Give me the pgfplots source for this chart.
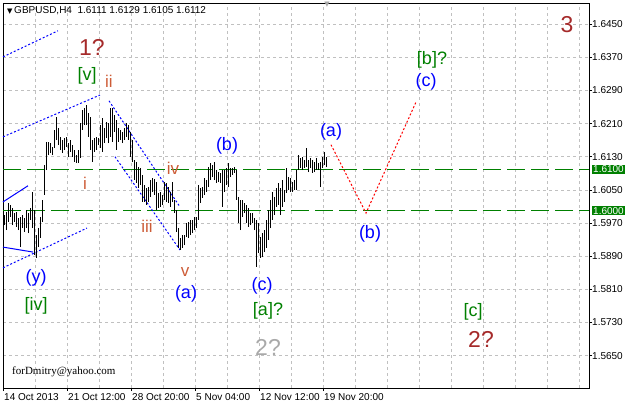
\documentclass[border=0pt]{standalone}
\usepackage{fontspec}
\setmainfont{Liberation Sans}
\newfontfamily\serifface{Liberation Serif}
\newfontfamily\symbface{DejaVu Sans}
\usepackage{pgfplots}
\usepackage{pgfplotstable}
\pgfplotsset{compat=1.18}

\definecolor{mtgreen}{RGB}{0,128,0}
\definecolor{mtblue}{RGB}{0,0,255}
\definecolor{mtbrown}{RGB}{165,42,42}
\definecolor{mtorange}{RGB}{205,92,55}
\definecolor{mtgrid}{RGB}{192,192,192}
\definecolor{mtgray}{RGB}{169,169,169}

\newcommand\fTick{\fontsize{10bp}{12bp}\selectfont}
\newcommand\fWl{\fontsize{18bp}{20bp}\selectfont}
\newcommand\fWr{\fontsize{17bp}{19bp}\selectfont}
\newcommand\fWb{\fontsize{23bp}{26bp}\selectfont}

% GBPUSD H4 bars: x position, high, low
\pgfplotstableread{
x hi lo
4 1.5990 1.5965
6 1.5997 1.5953
8 1.6019 1.5973
10 1.6014 1.5985
12 1.6007 1.5965
14 1.5994 1.5973
16 1.5997 1.5961
18 1.5982 1.5953
20 1.5985 1.5912
22 1.5990 1.5958
24 1.5982 1.5949
26 1.6002 1.5958
28 1.5994 1.5946
30 1.6007 1.5978
32 1.6045 1.5958
34 1.6002 1.5893
36 1.5941 1.5886
38 1.5958 1.5912
40 1.5985 1.5934
42 1.6026 1.5973
44 1.6110 1.6038
46 1.6166 1.6098
48 1.6166 1.6134
50 1.6163 1.6139
52 1.6154 1.6134
54 1.6195 1.6151
56 1.6226 1.6171
58 1.6200 1.6159
60 1.6178 1.6147
62 1.6171 1.6139
64 1.6175 1.6147
66 1.6178 1.6154
68 1.6163 1.6130
70 1.6171 1.6142
72 1.6159 1.6130
74 1.6147 1.6118
76 1.6134 1.6115
78 1.6147 1.6115
80 1.6212 1.6127
82 1.6243 1.6195
84 1.6248 1.6207
86 1.6255 1.6207
88 1.6236 1.6178
90 1.6226 1.6147
92 1.6171 1.6118
94 1.6175 1.6142
96 1.6178 1.6147
98 1.6175 1.6159
100 1.6207 1.6151
102 1.6224 1.6142
104 1.6200 1.6163
106 1.6214 1.6175
108 1.6212 1.6163
110 1.6248 1.6178
112 1.6248 1.6166
114 1.6231 1.6190
116 1.6219 1.6147
118 1.6200 1.6166
120 1.6195 1.6171
122 1.6190 1.6163
124 1.6200 1.6171
126 1.6212 1.6178
128 1.6207 1.6171
130 1.6190 1.6130
132 1.6171 1.6118
134 1.6122 1.6074
136 1.6118 1.6067
138 1.6105 1.6055
140 1.6103 1.6062
142 1.6086 1.6021
144 1.6062 1.6021
146 1.6055 1.6014
148 1.6057 1.6021
150 1.6074 1.6033
152 1.6079 1.6045
154 1.6076 1.6038
156 1.6069 1.6002
158 1.6043 1.6007
160 1.6045 1.6009
162 1.6038 1.6014
164 1.6069 1.6026
166 1.6067 1.6021
168 1.6057 1.6019
170 1.6045 1.6009
172 1.6069 1.6021
174 1.6026 1.5994
176 1.6002 1.5949
178 1.5958 1.5910
180 1.5934 1.5905
182 1.5941 1.5910
184 1.5941 1.5917
186 1.5970 1.5937
188 1.5973 1.5934
190 1.5978 1.5941
192 1.5978 1.5946
194 1.5985 1.5953
196 1.5985 1.5958
198 1.6062 1.5978
200 1.6055 1.6019
202 1.6057 1.6031
204 1.6079 1.6038
206 1.6074 1.6045
208 1.6105 1.6057
210 1.6115 1.6074
212 1.6110 1.6081
214 1.6118 1.6074
216 1.6098 1.6067
218 1.6093 1.6069
220 1.6091 1.6067
222 1.6098 1.6009
224 1.6098 1.6045
226 1.6103 1.6062
228 1.6115 1.6057
230 1.6103 1.6081
232 1.6103 1.6086
234 1.6105 1.6091
236 1.6098 1.6026
238 1.6033 1.5970
240 1.6026 1.5953
242 1.6026 1.5985
244 1.6019 1.5994
246 1.6014 1.5970
248 1.6007 1.5961
250 1.5994 1.5965
252 1.5994 1.5970
254 1.5982 1.5953
256 1.5978 1.5864
258 1.5970 1.5898
260 1.5937 1.5886
262 1.5946 1.5888
264 1.5953 1.5900
266 1.5978 1.5910
268 1.6002 1.5929
270 1.6026 1.5958
272 1.6045 1.5978
274 1.6033 1.5990
276 1.6055 1.6009
278 1.6067 1.6014
280 1.6055 1.5990
282 1.6074 1.6009
284 1.6050 1.6021
286 1.6103 1.6043
288 1.6081 1.6050
290 1.6079 1.6045
292 1.6069 1.6045
294 1.6074 1.6050
296 1.6098 1.6050
298 1.6134 1.6098
300 1.6127 1.6103
302 1.6130 1.6098
304 1.6122 1.6103
306 1.6151 1.6105
308 1.6122 1.6093
310 1.6127 1.6103
312 1.6122 1.6091
314 1.6118 1.6093
316 1.6127 1.6098
318 1.6115 1.6098
320 1.6118 1.6057
322 1.6130 1.6103
324 1.6142 1.6110
326 1.6129 1.6105
}\bars

\begin{document}
\begin{tikzpicture}
\path[use as bounding box] (0,0) rectangle (628bp,407bp);
\begin{axis}[
    at={(3bp,19bp)}, anchor=south west,
    width=586bp, height=385bp, scale only axis,
    xmin=3, xmax=589, ymin=1.5572, ymax=1.6501,
    clip=false,
    axis line style={black, line width=1bp},
    tick align=outside, major tick length=3bp, minor tick length=0pt,
    xtick pos=bottom, ytick pos=right, yticklabel pos=right,
    xtick={3,67,131,195,259,323},
    xticklabels={14 Oct 2013,21 Oct 12:00,28 Oct 20:00,5 Nov 04:00,12 Nov 12:00,19 Nov 20:00},
    minor xtick={35,99,163,227,291,355,387,419,451,483,515,547,579},
    ytick={1.5650,1.5730,1.5810,1.5890,1.5970,1.6050,1.6130,1.6210,1.6290,1.6370,1.6450},
    grid=both,
    major grid style={mtgrid, dash pattern=on 3bp off 3bp, line width=0.8bp},
    minor grid style={mtgrid, dash pattern=on 3bp off 3bp, line width=0.8bp},
    tick style={black, line width=0.8bp},
    ticklabel style={font=\fTick, inner sep=0pt},
    xticklabel style={anchor=north west, xshift=1bp, yshift=-2bp},
    yticklabel style={anchor=west, /pgf/number format/.cd, fixed, fixed zerofill, precision=4, assume math mode=true},
    scaled y ticks=false,
]
% support levels
\addplot[mtgreen, line width=1bp, dash pattern=on 18bp off 6bp] coordinates {(3,1.6100) (589,1.6100)};
\addplot[mtgreen, line width=1bp, dash pattern=on 18bp off 6bp] coordinates {(3,1.6000) (589,1.6000)};

% channels
\addplot[mtblue, line width=1bp, dash pattern=on 2bp off 2bp] coordinates {(3,1.6371) (58,1.6434)};
\addplot[mtblue, line width=1bp, dash pattern=on 2bp off 2bp] coordinates {(3,1.6178) (100,1.6279)};
\addplot[mtblue, line width=1bp, dash pattern=on 2bp off 2bp] coordinates {(3,1.5862) (87,1.5958)};
\addplot[mtblue, line width=1bp] coordinates {(3,1.6021) (28,1.6060)};
\addplot[mtblue, line width=1bp] coordinates {(3,1.5912) (33,1.5900)};
\addplot[mtblue, line width=1bp, dash pattern=on 2bp off 2bp] coordinates {(109,1.6265) (180,1.6009)};
\addplot[mtblue, line width=1bp, dash pattern=on 2bp off 2bp] coordinates {(115,1.6130) (180,1.5905)};

% forecast
\addplot[red, line width=1bp, dash pattern=on 2bp off 2bp] coordinates {(331,1.6159) (366,1.5994) (416,1.6262)};

% bars (high-low ranges)
\addplot[draw=none, mark=none,
    error bars/.cd, y dir=plus, y explicit, error mark=none,
    error bar style={draw=black, solid, line width=1bp, line cap=butt}]
    table[x=x, y=lo, y error expr=\thisrow{hi}-\thisrow{lo}] {\bars};

% price boxes
\node[anchor=west, xshift=3bp, fill=mtgreen, text=white, inner sep=1bp, font=\fTick] at (axis cs:589,1.6100) {1.6100};
\node[anchor=west, xshift=3bp, fill=mtgreen, text=white, inner sep=1bp, font=\fTick] at (axis cs:589,1.6000) {1.6000};

% header and signature
\node[anchor=west, inner sep=0pt, font=\fTick] at (axis cs:7,1.6482) {{\symbface\fontsize{7bp}{8bp}\selectfont ▼}\,GBPUSD,H4\ \ 1.6111 1.6129 1.6105 1.6112};
\node[inner sep=0pt, text=mtgray, font=\symbface\fontsize{7bp}{8bp}\selectfont] at (axis cs:327,1.6496) {▼};
\node[anchor=west, inner sep=0pt, font=\serifface\fontsize{11bp}{13bp}\selectfont] at (axis cs:12,1.5611) {forDmitry@yahoo.com};

% wave labels
\node[text=mtbrown, font=\fWb] at (axis cs:92,1.6393) {1?};
\node[text=mtbrown, font=\fWb] at (axis cs:567,1.6449) {3};
\node[text=mtbrown, font=\fWb] at (axis cs:481,1.5688) {2?};
\node[text=mtgray, font=\fWb] at (axis cs:268,1.5670) {2?};
\node[text=mtgreen, font=\fWl] at (axis cs:87,1.6326) {[v]};
\node[text=mtgreen, font=\fWl] at (axis cs:36,1.5771) {[iv]};
\node[text=mtgreen, font=\fWl] at (axis cs:268,1.5758) {[a]?};
\node[text=mtgreen, font=\fWl] at (axis cs:432,1.6364) {[b]?};
\node[text=mtgreen, font=\fWl] at (axis cs:473,1.5755) {[c]};
\node[text=mtorange, font=\fWr] at (axis cs:85,1.6066) {i};
\node[text=mtorange, font=\fWr] at (axis cs:109,1.6311) {ii};
\node[text=mtorange, font=\fWr] at (axis cs:147,1.5961) {iii};
\node[text=mtorange, font=\fWr] at (axis cs:173,1.6102) {iv};
\node[text=mtorange, font=\fWr] at (axis cs:185,1.5852) {v};
\node[text=mtblue, font=\fWl] at (axis cs:36,1.5838) {(y)};
\node[text=mtblue, font=\fWl] at (axis cs:186,1.5798) {(a)};
\node[text=mtblue, font=\fWl] at (axis cs:227,1.6157) {(b)};
\node[text=mtblue, font=\fWl] at (axis cs:262,1.5818) {(c)};
\node[text=mtblue, font=\fWl] at (axis cs:331,1.6191) {(a)};
\node[text=mtblue, font=\fWl] at (axis cs:370,1.5943) {(b)};
\node[text=mtblue, font=\fWl] at (axis cs:426,1.6311) {(c)};
\end{axis}
\end{tikzpicture}
\end{document}
